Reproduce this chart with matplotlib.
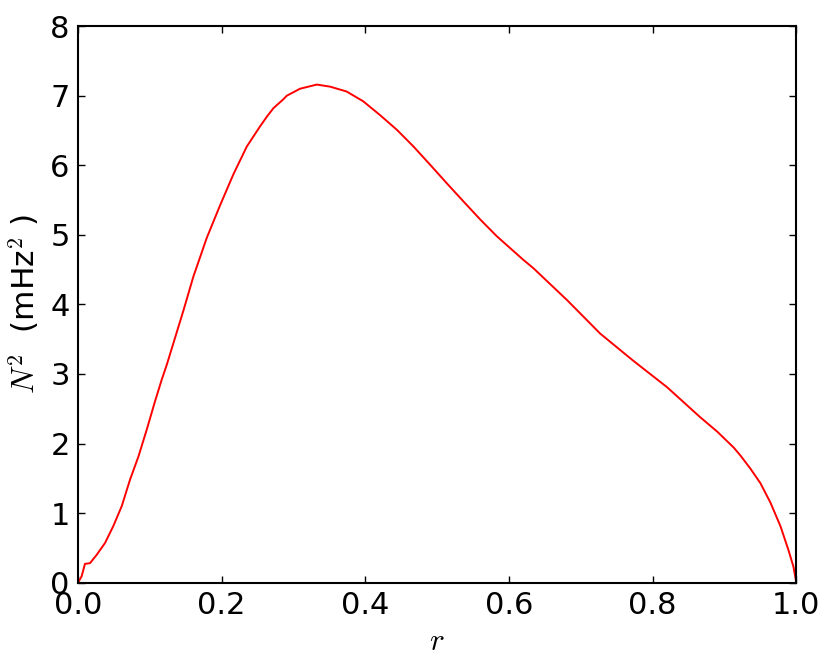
#!/usr/bin/env python3

import matplotlib
matplotlib.use('Agg')
import matplotlib.pyplot as plt

# radius (fraction of R) and buoyancy frequency squared
r = [0, 0.005, 0.0097, 0.0167, 0.026, 0.0376, 0.049, 0.0609, 0.0724,
     0.084, 0.0957, 0.107, 0.1166, 0.1235, 0.1467, 0.1606, 0.170, 0.179,
     0.198, 0.2163, 0.235, 0.2535, 0.263, 0.272, 0.286, 0.2907, 0.309,
     0.3324, 0.351, 0.374, 0.397, 0.4206, 0.4439, 0.467, 0.490, 0.5135,
     0.5366, 0.560, 0.583, 0.620, 0.634, 0.681, 0.727, 0.773, 0.820,
     0.866, 0.890, 0.913, 0.922, 0.936, 0.950, 0.964, 0.978, 0.989,
     0.996, 1.0]
N2 = [0, 0.09, 0.27, 0.28, 0.40, 0.57, 0.81, 1.10, 1.48,
      1.81, 2.20, 2.60, 2.92, 3.13, 3.91, 4.40, 4.68, 4.95,
      5.43, 5.87, 6.27, 6.56, 6.70, 6.82, 6.95, 7.00, 7.10,
      7.16, 7.13, 7.06, 6.92, 6.72, 6.51, 6.27, 6.01, 5.74,
      5.48, 5.22, 4.98, 4.64, 4.52, 4.06, 3.58, 3.19, 2.81,
      2.38, 2.17, 1.94, 1.83, 1.64, 1.43, 1.15, 0.81, 0.47,
      0.23, 0]

xticks = [0.0, 0.2, 0.4, 0.6, 0.8, 1.0]
yticks = [0, 1, 2, 3, 4, 5, 6, 7, 8]


def main():
    plt.rcParams['mathtext.fontset'] = 'cm'
    fig = plt.figure(figsize=(8.3, 6.72), dpi=100)
    ax = fig.add_axes([0.094, 0.133, 0.8654, 0.8281])

    ax.plot(r, N2, c='red', lw=1.4)
    ax.set_xlim(0, 1)
    ax.set_ylim(0, 8)
    ax.set_xticks(xticks)
    ax.set_yticks(yticks)
    ax.set_xticklabels(['%.1f' % t for t in xticks])
    ax.tick_params(direction='in', top=True, right=True, length=5,
                   width=1, labelsize=22, pad=6)
    for s in ax.spines.values():
        s.set_linewidth(1.5)

    ax.set_xlabel(r'$r$', fontsize=22.5, labelpad=5)
    ax.set_ylabel(r'$N^2$  (mHz$^2$ )', fontsize=22.5, labelpad=6)

    fig.savefig('out.png', dpi=100)


if __name__ == "__main__":
    main()
